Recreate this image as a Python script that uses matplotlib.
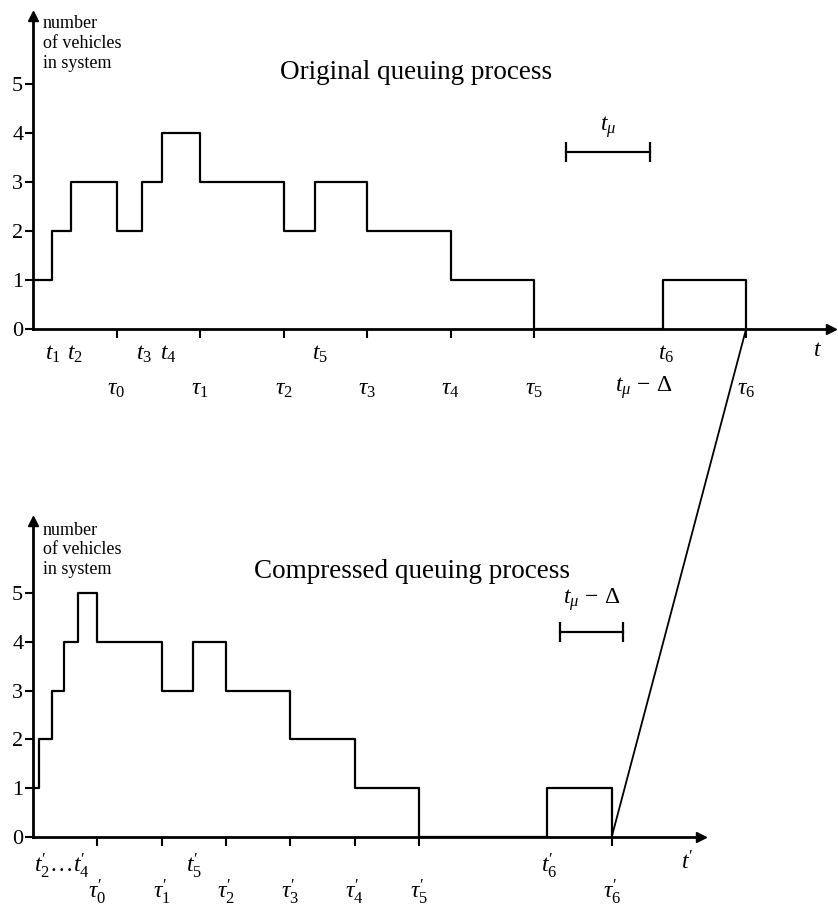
import matplotlib
matplotlib.use("Agg")
import matplotlib.pyplot as plt
from matplotlib.patches import ConnectionPatch

plt.rcParams['font.family'] = ['Liberation Serif', 'DejaVu Serif']
plt.rcParams['mathtext.fontset'] = 'custom'
plt.rcParams['mathtext.rm'] = 'Liberation Serif'
plt.rcParams['mathtext.it'] = 'Liberation Serif:italic'
plt.rcParams['mathtext.bf'] = 'Liberation Serif:bold'

# ---------------- data ----------------
# Original process (time in units of tau spacing)
top_times = [0, 0.23, 0.45, 1.0, 1.31, 1.54, 2.0, 3.0, 3.38, 4.0, 5.0, 6.0, 7.54, 8.54]
top_counts = [1, 2, 3, 2, 3, 4, 3, 2, 3, 2, 1, 0, 1, 0]
top_tau = [1.0, 2.0, 3.0, 4.0, 5.0, 6.0, 8.54]
top_tau_labels = [r"$\tau_0$", r"$\tau_1$", r"$\tau_2$", r"$\tau_3$", r"$\tau_4$", r"$\tau_5$", r"$\tau_6$"]
top_t_pos = [0.24, 0.50, 1.33, 1.62, 3.44, 7.58]
top_t_labels = [r"$t_1$", r"$t_2$", r"$t_3$", r"$t_4$", r"$t_5$", r"$t_6$"]
top_service = [6.38, 7.39]

# Compressed process
bot_times = [0, 0.09, 0.30, 0.48, 0.70, 1.0, 2.0, 2.49, 3.0, 4.0, 5.0, 6.0, 8.0, 9.0]
bot_counts = [1, 2, 3, 4, 5, 4, 3, 4, 3, 2, 1, 0, 1, 0]
bot_tau = [1.0, 2.0, 3.0, 4.0, 5.0, 6.0, 9.0]
bot_tau_labels = [r"$\tau_0^{\prime}$", r"$\tau_1^{\prime}$", r"$\tau_2^{\prime}$", r"$\tau_3^{\prime}$",
                  r"$\tau_4^{\prime}$", r"$\tau_5^{\prime}$", r"$\tau_6^{\prime}$"]
bot_t_pos = [0.44, 2.51, 8.02]
bot_t_labels = [r"$t_2^{\prime}\ldots t_4^{\prime}$", r"$t_5^{\prime}$", r"$t_6^{\prime}$"]
bot_service = [8.2, 9.18]

y_ticks = [0, 1, 2, 3, 4, 5]

# ---------------- figure ----------------
W, H = 838, 906
fig = plt.figure(figsize=(W / 100, H / 100), dpi=100)

def px_axes(x0, x1, y_top, y_base):
    return fig.add_axes([x0 / W, (H - y_base) / H, (x1 - x0) / W, (y_base - y_top) / H])

ax1 = px_axes(33, 831, 16, 329)
ax1.set_xlim(0, (831 - 33) / 83.5)
ax1.set_ylim(0, (329 - 16) / 49.0)

ax2 = px_axes(33, 701, 521, 837)
ax2.set_xlim(0, (701 - 33) / 64.3)
ax2.set_ylim(0, (837 - 521) / 48.8)

LW = 1.6
for ax in (ax1, ax2):
    ax.set_facecolor('none')
    for s in ('top', 'right'):
        ax.spines[s].set_visible(False)
    for s in ('left', 'bottom'):
        ax.spines[s].set_linewidth(2.0)
    ax.plot(1, 0, ">k", transform=ax.get_yaxis_transform(), clip_on=False, ms=7)
    ax.plot(0, 1, "^k", transform=ax.get_xaxis_transform(), clip_on=False, ms=7)
    ax.set_yticks(y_ticks)
    ax.set_yticklabels([str(v) for v in y_ticks], fontsize=16)
    ax.tick_params(axis='y', direction='out', length=6, width=1.5, pad=1)
    ax.tick_params(axis='x', direction='out', length=6.5, width=1.5, labelbottom=False)

def under(ax, x, text, dy_px, size=17):
    ax.annotate(text, xy=(x, 0), xytext=(0, -dy_px * 0.72), textcoords='offset points',
                ha='center', va='center', fontsize=size, annotation_clip=False)

# top panel
ax1.step(top_times, top_counts, where='post', color='black', lw=LW)
ax1.set_xticks(top_tau)
for x, lab in zip(top_t_pos, top_t_labels):
    under(ax1, x, lab, 25)
for x, lab in zip(top_tau, top_tau_labels):
    under(ax1, x, lab, 60)
under(ax1, 7.31, r"$t_{\mu}\,-\,\Delta$", 59)
under(ax1, 9.4, r"$t$", 22)
ax1.plot(top_service, [3.61, 3.61], color='black', lw=LW, marker='|', ms=15, mew=1.6)
ax1.text(6.89, 4.12, r"$t_{\mu}$", fontsize=17, ha='center', va='center')
ax1.text(4.59, 5.24, "Original queuing process", fontsize=19.5, ha='center', va='center')
ax1.annotate("number\nof vehicles\nin system", xy=(0, 1), xycoords='axes fraction',
             xytext=(7, 0.5), textcoords='offset points', ha='left', va='top',
             fontsize=13, linespacing=1.2, annotation_clip=False)

# bottom panel
ax2.step(bot_times, bot_counts, where='post', color='black', lw=LW)
ax2.set_xticks(bot_tau)
for x, lab in zip(bot_t_pos, bot_t_labels):
    under(ax2, x, lab, 29)
for x, lab in zip(bot_tau, bot_tau_labels):
    under(ax2, x, lab, 55)
under(ax2, 10.17, r"$t^{\prime}$", 26)
ax2.plot(bot_service, [4.2, 4.2], color='black', lw=LW, marker='|', ms=15, mew=1.6)
ax2.text(8.69, 4.86, r"$t_{\mu}\,-\,\Delta$", fontsize=17, ha='center', va='center')
ax2.text(5.9, 5.45, "Compressed queuing process", fontsize=19.5, ha='center', va='center')
ax2.annotate("number\nof vehicles\nin system", xy=(0, 1), xycoords='axes fraction',
             xytext=(7, -0.5), textcoords='offset points', ha='left', va='top',
             fontsize=13, linespacing=1.2, annotation_clip=False)

# link tau6 -> tau6'
con = ConnectionPatch(xyA=(top_tau[-1], 0), coordsA=ax1.transData,
                      xyB=(bot_tau[-1], 0), coordsB=ax2.transData,
                      color='black', lw=1.3)
fig.add_artist(con)

fig.savefig("out.png", dpi=100)
